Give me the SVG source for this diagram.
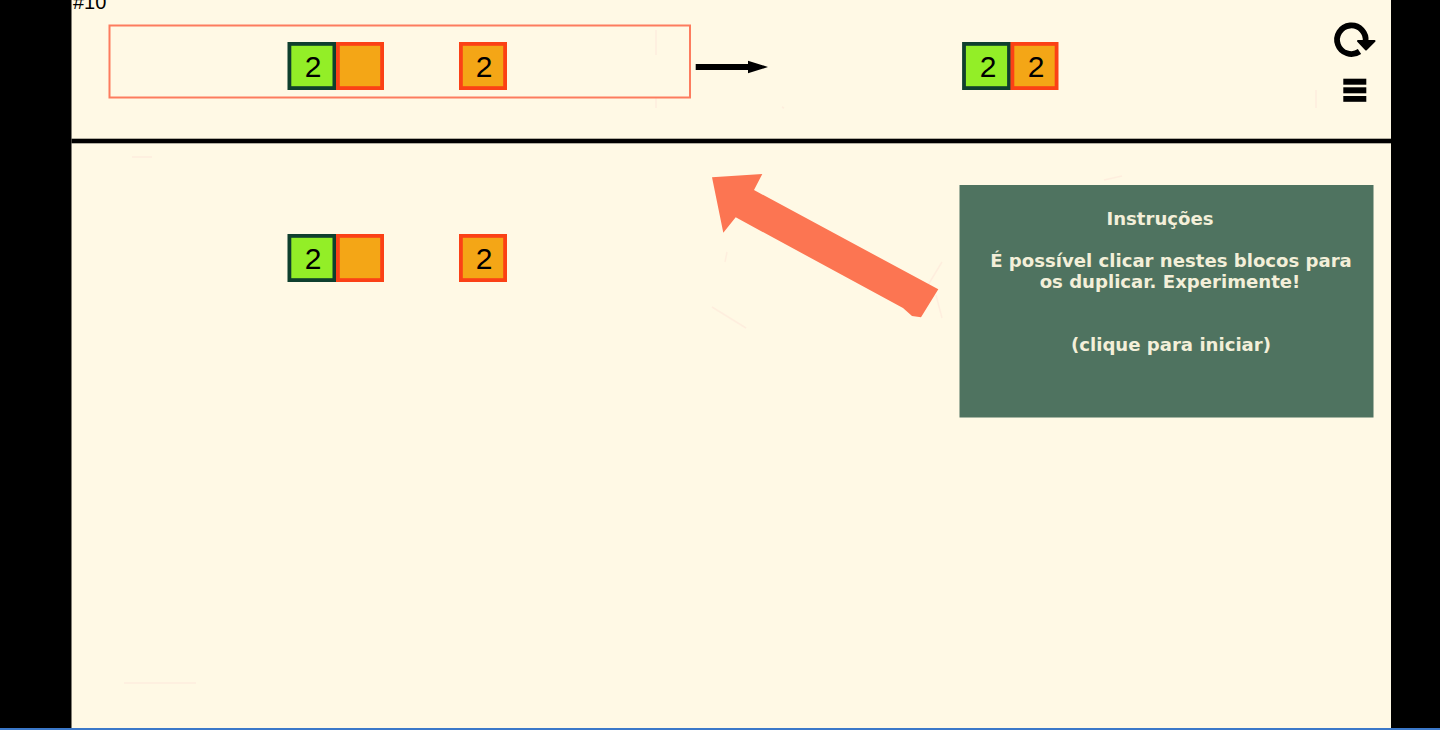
<svg xmlns="http://www.w3.org/2000/svg" width="1440" height="730" viewBox="0 0 1440 730">
<style>
.g{fill:#93ee27;stroke:#0f3f2e;stroke-width:3.8}
.o{fill:#f4a616;stroke:#fb4116;stroke-width:3.8}
.n{font-family:"Liberation Sans",Arial,sans-serif;font-size:30px;fill:#000;text-anchor:middle}
.t{font-family:"DejaVu Sans",sans-serif;font-size:18.1px;font-weight:bold;fill:#f3efd9;text-anchor:middle}
.s{fill:none;stroke:#fde6d8;stroke-width:1.5;opacity:.55}
</style>
<rect width="1440" height="730" fill="#000"/>
<rect x="71.5" y="0" width="1319.5" height="730" fill="#fff9e5"/>
<rect x="0" y="728" width="1440" height="2" fill="#3b78c9"/>
<rect x="71.5" y="138.7" width="1319.5" height="4.6" fill="#000"/>
<g id="smudges">
<path class="s" d="M132 157H152M656 30V55M656 98V108M1316 90V108M1104 180L1122 176M712 307L746 328M928 285L942 262M936 295L942 318M727 252L725 262M124 683H196M782 107L784 108"/>
</g>
<text id="counter" x="73" y="9" font-family="'Liberation Sans',Arial,sans-serif" font-size="20" fill="#000">#10</text>
<g id="selection"><rect x="109.5" y="25.5" width="580.5" height="72" fill="none" stroke="#fd7c5e" stroke-width="2"/></g>
<g id="top-a"><rect class="g" x="289.4" y="43.9" width="45" height="44.2"/><text class="n" x="313" y="76.5">2</text></g>
<g id="top-b"><rect class="o" x="337.9" y="43.9" width="44.2" height="44.2"/></g>
<g id="top-c"><rect class="o" x="460.9" y="43.9" width="44.2" height="44.2"/><text class="n" x="484" y="76.5">2</text></g>
<g id="result-a"><rect class="g" x="964" y="43.9" width="45" height="44.2"/><text class="n" x="988" y="76.5">2</text></g>
<g id="result-b"><rect class="o" x="1012.4" y="43.9" width="44.2" height="44.2"/><text class="n" x="1036" y="76.5">2</text></g>
<g id="work-a"><rect class="g" x="289.4" y="235.9" width="45" height="44.2"/><text class="n" x="313" y="268.5">2</text></g>
<g id="work-b"><rect class="o" x="337.9" y="235.9" width="44.2" height="44.2"/></g>
<g id="work-c"><rect class="o" x="460.9" y="235.9" width="44.2" height="44.2"/><text class="n" x="484" y="268.5">2</text></g>
<g id="connectors">
<path d="M695.7 64H748V60.7L768 67L748 73.3V70H695.7Z" fill="#000"/>
<path d="M712 177.3L762.3 174L754 190L938.3 289.3L921 317.3L912 316L903 308L735.7 217.3L723.3 232.7Z" fill="#fc7552"/>
</g>
<g id="refresh">
<path d="M1359.5 51.5A14.3 14.3 0 1 1 1365.5 42" fill="none" stroke="#000" stroke-width="5.8"/>
<path d="M1358 41H1374.5L1366 49.5Z" fill="#000" stroke="#000" stroke-width="2" stroke-linejoin="round"/>
</g>
<g id="menu" fill="#000">
<rect x="1343.3" y="78.7" width="23" height="6"/>
<rect x="1343.3" y="87.3" width="23" height="6"/>
<rect x="1343.3" y="96" width="23" height="5.8"/>
</g>
<g id="instructions">
<rect x="959.5" y="185" width="414" height="232.5" fill="#4f7360"/>
<text class="t" x="1160" y="224.5">Instruções</text>
<text class="t" x="1171" y="266.5">É possível clicar nestes blocos para</text>
<text class="t" x="1170" y="287.5">os duplicar. Experimente!</text>
<text class="t" x="1171" y="350.5">(clique para iniciar)</text>
</g>
</svg>
